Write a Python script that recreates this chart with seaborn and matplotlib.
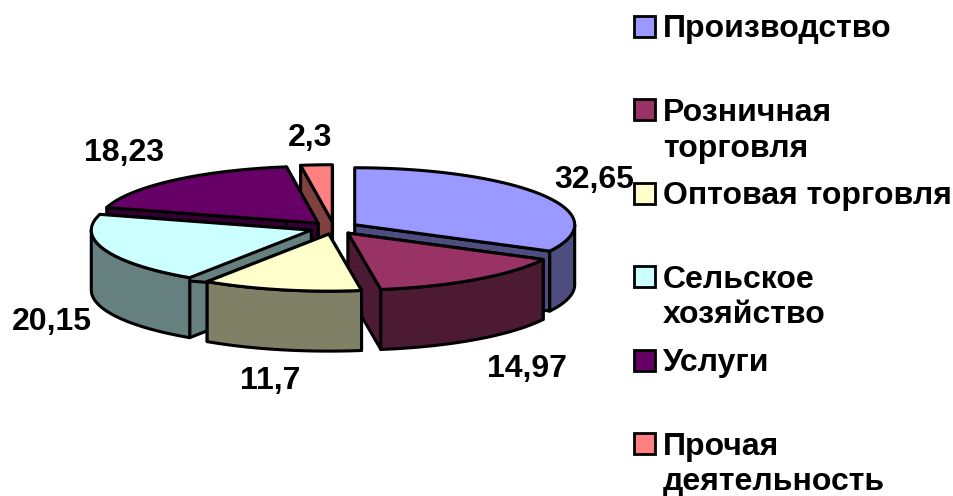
import numpy as np
import seaborn as sns
import matplotlib
matplotlib.use("Agg")
import matplotlib.pyplot as plt
from matplotlib.patches import Rectangle

# ------------------------------
# Data
# ------------------------------
categories = ["Производство", "Розничная\nторговля", "Оптовая торговля",
              "Сельское\nхозяйство", "Услуги", "Прочая\nдеятельность"]
values = [32.65, 14.97, 11.7, 20.15, 18.23, 2.3]
value_labels = ["32,65", "14,97", "11,7", "20,15", "18,23", "2,3"]
top_colors = ["#9999FF", "#993366", "#FFFFCC", "#CCFFFF", "#660066", "#FF8080"]

# ------------------------------
# Layout (in pixels of the picture)
# ------------------------------
cx, cy = 334, 228
rx, ry = 220, 57
depth = 60
explode = 0.11
draw_order = [5, 4, 0, 1, 3, 2]
label_xy = [(594, 180), (527, 369), (270, 381), (52, 322), (124, 153), (310, 138)]
legend_x = 634
legend_y0 = 26.5
legend_step = 83.4
box = 21
font_px = 32

sns.set_theme(style="white")
plt.rcParams['font.family'] = ['Liberation Sans', 'DejaVu Sans']
palette = sns.color_palette(top_colors)
side_colors = [tuple(c * 0.5 for c in col) for col in palette]

fig = plt.figure(figsize=(9.54, 4.96), dpi=100)
ax = fig.add_axes([0, 0, 1, 1])
ax.set_xlim(0, 954)
ax.set_ylim(496, 0)
ax.axis("off")

# ------------------------------
# Pie slices, clockwise from 12 o'clock
# ------------------------------
edges = np.cumsum([0] + values) / sum(values) * 2 * np.pi


def arc(x0, y0, a, b):
    t = np.linspace(a, b, max(2, int(abs(b - a) * 60)))
    return x0 + rx * np.sin(t), y0 - ry * np.cos(t)


lw = 2.2
for i in draw_order:
    a, b = edges[i], edges[i + 1]
    mid = (a + b) / 2
    x0 = cx + explode * rx * np.sin(mid)
    y0 = cy - explode * ry * np.cos(mid)
    style = dict(edgecolor="black", linewidth=lw, joinstyle="round")

    # side walls along both radial edges
    for ang in (a, b):
        ex, ey = arc(x0, y0, ang, ang)
        ex, ey = ex[0], ey[0]
        ax.fill([x0, ex, ex, x0], [y0, ey, ey + depth, y0 + depth],
                facecolor=side_colors[i], **style)

    # outer wall, only the front half of the ellipse shows
    lo, hi = max(a, np.pi / 2), min(b, 3 * np.pi / 2)
    if lo < hi:
        ox, oy = arc(x0, y0, lo, hi)
        ax.fill(np.r_[ox, ox[::-1]], np.r_[oy, oy[::-1] + depth],
                facecolor=side_colors[i], **style)

    # top face
    tx, ty = arc(x0, y0, a, b)
    ax.fill(np.r_[x0, tx], np.r_[y0, ty], facecolor=palette[i], **style)

# ------------------------------
# Value labels
# ------------------------------
text_style = dict(fontsize=font_px * 0.72, fontweight="bold", color="black", linespacing=1.25)
for (lx, ly), lab in zip(label_xy, value_labels):
    ax.text(lx, ly, lab, ha="center", va="center", **text_style)

# ------------------------------
# Legend
# ------------------------------
for i, name in enumerate(categories):
    y = legend_y0 + i * legend_step
    ax.add_patch(Rectangle((legend_x, y - box / 2), box, box, facecolor=palette[i],
                           edgecolor="black", linewidth=2))
    ax.text(legend_x + 29, y - 12, name, ha="left", va="top", **text_style)

fig.savefig("out.png", dpi=100)
